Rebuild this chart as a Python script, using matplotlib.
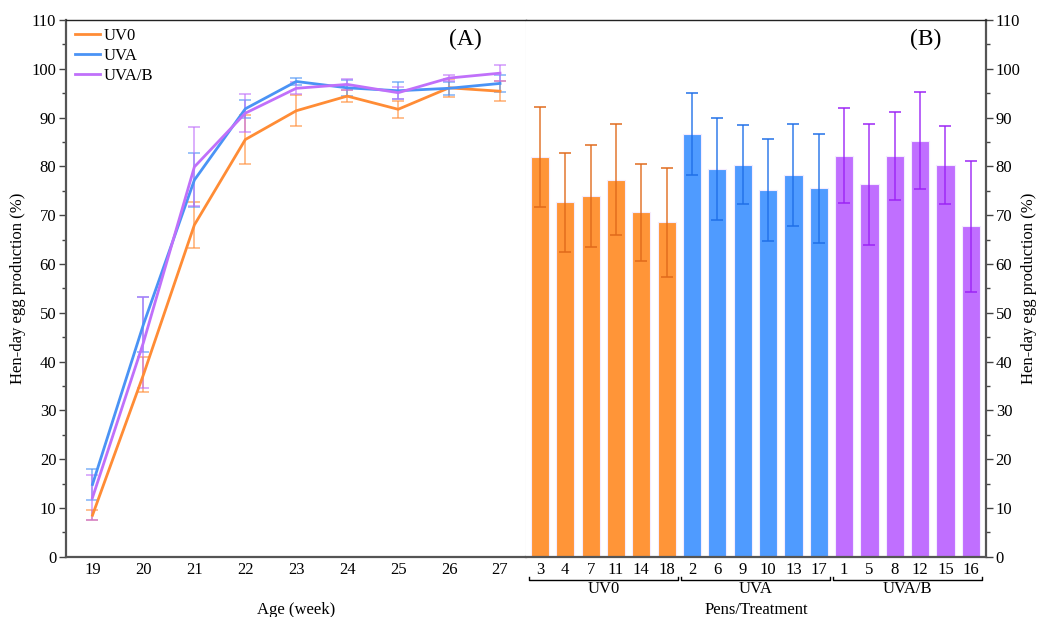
import matplotlib.pyplot as plt
from matplotlib.ticker import MultipleLocator
from matplotlib.lines import Line2D
import matplotlib.transforms as mtransforms

plt.rcParams['font.family'] = ['Liberation Serif', 'DejaVu Serif']

# panel A: weekly means and errors
weeks = [19, 20, 21, 22, 23, 24, 25, 26, 27]
uv0_mean = [8.5, 37.3, 68.0, 85.5, 91.4, 94.4, 91.7, 96.1, 95.4]
uv0_err = [1.0, 3.6, 4.8, 5.0, 3.2, 1.3, 1.7, 1.8, 2.0]
uva_mean = [14.8, 47.6, 77.2, 91.8, 97.4, 96.1, 95.5, 96.0, 97.0]
uva_err = [3.1, 5.7, 5.5, 1.9, 0.8, 1.6, 1.7, 1.3, 1.7]
uvab_mean = [12.1, 43.9, 79.9, 90.9, 96.0, 96.8, 95.1, 98.1, 99.1]
uvab_err = [4.6, 9.3, 8.1, 3.9, 1.2, 1.1, 1.2, 0.7, 1.6]

# panel B: pens per treatment
pens_uv0 = ['3', '4', '7', '11', '14', '18']
pen_uv0_mean = [81.9, 72.6, 73.9, 77.3, 70.6, 68.5]
pen_uv0_err = [10.2, 10.2, 10.4, 11.3, 9.9, 11.2]
pens_uva = ['2', '6', '9', '10', '13', '17']
pen_uva_mean = [86.7, 79.5, 80.3, 75.2, 78.2, 75.5]
pen_uva_err = [8.4, 10.4, 8.1, 10.5, 10.5, 11.2]
pens_uvab = ['1', '5', '8', '12', '15', '16']
pen_uvab_mean = [82.2, 76.3, 82.2, 85.3, 80.3, 67.7]
pen_uvab_err = [9.8, 12.4, 9.0, 10.0, 8.0, 13.5]

treatments = ['UV0', 'UVA', 'UVA/B']
line_colors = ['#ff8c35', '#4a93f5', '#c070fa']
bar_colors = ['#ff9538', '#4f9bff', '#c06fff']
err_colors = ['#e0691a', '#1e6fe8', '#9b22f5']

FS = 12

fig = plt.figure(figsize=(10.39, 6.17), dpi=100)
left, right, bottom, top = 66 / 1039, 986 / 1039, 1 - 556.7 / 617, 1 - 20 / 617
mid = 526 / 1039
ax1 = fig.add_axes([left, bottom, mid - left, top - bottom])
ax2 = fig.add_axes([mid, bottom, right - mid, top - bottom], sharey=ax1)

# ---- panel A
series = [(uv0_mean, uv0_err), (uva_mean, uva_err), (uvab_mean, uvab_err)]
for (m, e), c in zip(series, line_colors):
    cont = ax1.errorbar(weeks, m, yerr=e, color=c, ecolor=c, elinewidth=1.1, capsize=4.5,
                        capthick=1.1, lw=2)
    for art in cont.lines[1] + cont.lines[2]:
        art.set_alpha(0.7)

ax1.set_xlim(18.48, 27.51)
ax1.set_ylim(0, 110)
ax1.set_xticks(weeks)
ax1.yaxis.set_major_locator(MultipleLocator(10))
ax1.yaxis.set_minor_locator(MultipleLocator(5))
ax1.tick_params(axis='x', length=0, labelsize=FS, pad=4)
ax1.tick_params(axis='y', which='major', direction='out', length=5, width=1, labelsize=FS,
                colors='#444', labelcolor='black', pad=2)
ax1.tick_params(axis='y', which='minor', direction='out', length=3, width=1, colors='#444')
ax1.set_ylabel('Hen-day egg production (%)', fontsize=FS)
ax1.yaxis.set_label_coords(-0.088, 0.5)
for s in ['left', 'bottom']:
    ax1.spines[s].set_color('#555555')
    ax1.spines[s].set_linewidth(1.6)
ax1.spines['top'].set_color('#222222')
ax1.spines['top'].set_linewidth(1.0)
ax1.spines['right'].set_color('#d8d8d8')
ax1.spines['right'].set_linewidth(0.8)
ax1.text(0.5, -0.1, 'Age (week)', transform=ax1.transAxes, ha='center', va='center', fontsize=FS)
ax1.text(0.868, 0.963, '(A)', transform=ax1.transAxes, ha='center', va='center', fontsize=17)
handles = [Line2D([], [], color=c, lw=2) for c in line_colors]
ax1.legend(handles, treatments, loc='upper left', bbox_to_anchor=(-0.005, 1.007), frameon=False,
           fontsize=FS, handlelength=1.45, handletextpad=0.25, labelspacing=0.25, borderaxespad=0.3)

# ---- panel B
groups = [(pens_uv0, pen_uv0_mean, pen_uv0_err), (pens_uva, pen_uva_mean, pen_uva_err),
          (pens_uvab, pen_uvab_mean, pen_uvab_err)]
labels = []
pos = 0
trans = mtransforms.blended_transform_factory(ax2.transData, ax2.transAxes)
for (pens, m, e), bc, ec, name in zip(groups, bar_colors, err_colors, treatments):
    x = list(range(pos, pos + len(pens)))
    ax2.bar(x, m, width=0.72, color=bc, edgecolor='#f4ecff', linewidth=0.8, zorder=2)
    ax2.errorbar(x, m, yerr=e, fmt='none', ecolor=ec, elinewidth=1.1, capsize=4.5,
                 capthick=1.2, alpha=0.9, zorder=3)
    labels += pens
    x0, x1 = x[0] - 0.42, x[-1] + 0.45
    yb = -0.0434
    ax2.plot([x0, x0, x1, x1], [yb + 0.006, yb, yb, yb + 0.006], color='black', lw=1,
             transform=trans, clip_on=False)
    ax2.text((x0 + x1) / 2, -0.061, name, transform=trans, ha='center', va='center', fontsize=FS)
    pos += len(pens)

ax2.set_xticks(range(pos))
ax2.set_xticklabels(labels)
ax2.set_xlim(-0.55, pos - 1 + 0.6)
ax2.tick_params(axis='x', length=0, labelsize=FS, pad=4)
ax2.yaxis.tick_right()
ax2.yaxis.set_label_position('right')
ax2.tick_params(axis='y', which='major', direction='out', length=5, width=1, labelsize=FS,
                colors='#444', labelcolor='black', left=False, labelleft=False, right=True,
                labelright=True, pad=2)
ax2.tick_params(axis='y', which='minor', direction='out', length=3, width=1, colors='#444',
                left=False, right=True)
ax2.set_ylabel('Hen-day egg production (%)', fontsize=FS, rotation=90)
ax2.yaxis.set_label_coords(1.077, 0.5)
for s in ['right', 'bottom']:
    ax2.spines[s].set_color('#555555')
    ax2.spines[s].set_linewidth(1.6)
ax2.spines['top'].set_color('#222222')
ax2.spines['top'].set_linewidth(1.0)
ax2.spines['left'].set_visible(False)
ax2.text(0.5, -0.1, 'Pens/Treatment', transform=ax2.transAxes, ha='center', va='center', fontsize=FS)
ax2.text(0.868, 0.963, '(B)', transform=ax2.transAxes, ha='center', va='center', fontsize=17)

fig.savefig('out.png', dpi=100)
